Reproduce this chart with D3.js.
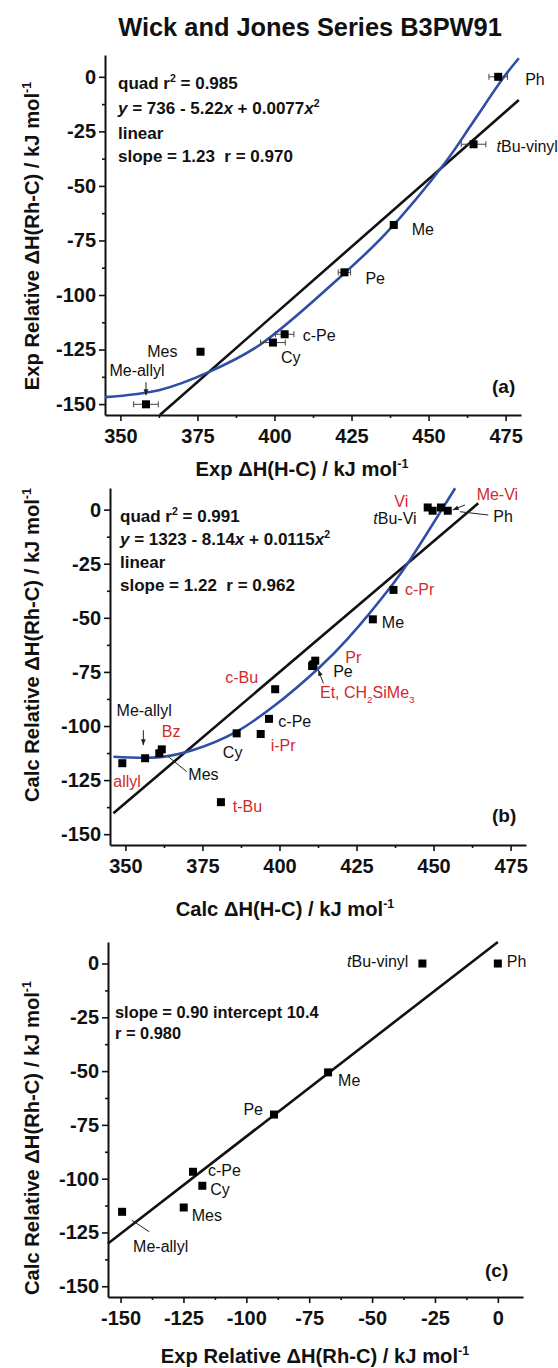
<!DOCTYPE html>
<html>
<head>
<meta charset="utf-8">
<script src="https://cdn.jsdelivr.net/npm/d3@7"></script>
<style>
body { margin: 0; background: #fff; }
svg text { font-family: "Liberation Sans", Arial, Helvetica, sans-serif; white-space: pre; }
</style>
</head>
<body>
<svg id="chart" width="558" height="1368"></svg>
<script>
// ---- data ----
// (a) experimental Rh-C vs experimental H-C
const aNames  = ["Ph", "tBu-vinyl", "Me", "Pe", "c-Pe", "Cy", "Mes", "Me-allyl"];
const aExpHC  = [472.6, 464.6, 438.7, 422.7, 403.3, 399.5, 376.0, 358.3];
const aExpRhC = [0, -30.9, -67.9, -89.6, -118.0, -121.8, -126.0, -150.1];
const aErr    = [3, 4, 1, 2, 3, 4, 1, 4];
const aQuadX  = [345, 362.8, 379, 395.2, 422.7, 436, 455.6, 464.2, 474.5, 479.3];
const aQuadY  = [-146.8, -143.5, -135.1, -122.9, -90, -72, -38.9, -21.3, 0, 8.5];
const aLinX   = [362.8, 479.3];
const aLinY   = [-155, -10.6];

// (b) calculated Rh-C vs calculated H-C
const bNames   = ["Vi", "tBu-Vi", "Me-Vi", "Ph", "c-Pr", "Me", "Pr", "Pe", "Et", "CH2SiMe3",
                  "c-Bu", "c-Pe", "i-Pr", "Cy", "t-Bu", "Bz", "Mes", "Me-allyl", "allyl"];
const bCalcHC  = [448.1, 449.7, 452.4, 454.6, 437.0, 430.3, 411.6, 410.6, 411.0, 410.8,
                  398.6, 396.6, 393.9, 386.1, 381.0, 361.8, 361.0, 356.4, 349.0];
const bCalcRhC = [1.0, -0.5, 1.0, -0.5, -37.1, -50.7, -69.8, -72.3, -71.5, -72.0,
                  -83.0, -96.7, -103.7, -103.4, -135.2, -110.8, -112.6, -114.9, -117.2];
const bQuadX   = [346.1, 361.2, 372, 386.1, 398, 413.2, 421.8, 437, 441.3, 457];
const bQuadY   = [-114.2, -114.4, -111.1, -102.6, -91, -72.6, -60.2, -34, -25.5, 9.9];
const bLinX    = [346.1, 464.5];
const bLinY    = [-140.3, 2.9];

// (c) calculated vs experimental relative Rh-C
const cNames = ["tBu-vinyl", "Ph", "Me", "Pe", "c-Pe", "Cy", "Mes", "Me-allyl"];
const cExp   = [-30, 0, -67.5, -89, -121.2, -117.5, -124.9, -149.4];
const cCalc  = [0, 0, -50.6, -70.2, -96.8, -103.3, -113.4, -115.4];
const cLinX  = [-155, 0];
const cLinY  = [-130.1, 10];

// ticks
const hcTicks     = [350, 375, 400, 425, 450, 475];
const hcMinor     = [362.5, 387.5, 412.5, 437.5, 462.5];
const relTicks    = [0, -25, -50, -75, -100, -125, -150];
const relMinor    = [-12.5, -37.5, -62.5, -87.5, -112.5, -137.5];
const relXTicks   = [-150, -125, -100, -75, -50, -25, 0];
const relXMinor   = [-137.5, -112.5, -87.5, -62.5, -37.5, -12.5];

const BLUE = "#2f4fa6";
const RED = "#d12a2a";

const svg = d3.select("#chart");

const defs = svg.append("defs");
defs.append("marker")
    .attr("id", "arr")
    .attr("viewBox", "0 0 10 10")
    .attr("refX", 10).attr("refY", 5)
    .attr("markerWidth", 6).attr("markerHeight", 6)
    .attr("orient", "auto")
    .append("path").attr("d", "M0,1L10,5L0,9z").attr("fill", "#222");

// text with super/subscripts and italics
function rich(text, parts, fs) {
    let cur = 0;
    parts.forEach(p => {
        const off = p.sup ? -0.42 * fs : p.sub ? 0.3 * fs : 0;
        const ts = text.append("tspan").attr("dy", off - cur).text(p.t);
        if (p.sup || p.sub) ts.attr("font-size", fs * 0.62);
        if (p.it) ts.attr("font-style", "italic");
        cur = off;
    });
    return text;
}

function label(g, x, y, parts, o) {
    const fs = o.fs || 16;
    const t = g.append("text")
        .attr("x", x).attr("y", y)
        .attr("font-size", fs)
        .attr("font-weight", o.bold ? "bold" : "normal")
        .attr("fill", o.color || "#111")
        .attr("text-anchor", o.anchor || "start");
    if (o.rotate) t.attr("transform", `rotate(-90,${x},${y})`);
    return rich(t, typeof parts === "string" ? [{t: parts}] : parts, fs);
}

function drawPanel(p) {
    const g = svg.append("g");
    const x = d3.scaleLinear().domain(p.xDom).range([p.x0, p.x1]);
    const y = d3.scaleLinear().domain([-155, 10]).range([p.y1, p.y0]);

    // axes
    const xa = g.append("g").attr("transform", `translate(0,${p.y1})`)
        .call(d3.axisBottom(x).tickValues(p.xTicks).tickSize(6).tickPadding(8)
            .tickSizeOuter(0).tickFormat(d => String(d)));
    const xm = g.append("g").attr("transform", `translate(0,${p.y1})`)
        .call(d3.axisBottom(x).tickValues(p.xMinor).tickSize(3).tickFormat(""));
    const ya = g.append("g").attr("transform", `translate(${p.x0},0)`)
        .call(d3.axisLeft(y).tickValues(relTicks).tickSize(6).tickPadding(3)
            .tickSizeOuter(0).tickFormat(d => String(d)));
    const ym = g.append("g").attr("transform", `translate(${p.x0},0)`)
        .call(d3.axisLeft(y).tickValues(relMinor).tickSize(3).tickFormat(""));
    xm.select(".domain").remove();
    ym.select(".domain").remove();
    [xa, ya].forEach(a => {
        a.select(".domain").attr("stroke", "#111").attr("stroke-width", 2);
        a.selectAll("text").attr("font-size", 20).attr("font-weight", "bold")
            .attr("fill", "#111").attr("font-family", "Liberation Sans, Arial, sans-serif");
    });
    [xa, ya, xm, ym].forEach(a => a.selectAll(".tick line").attr("stroke", "#111").attr("stroke-width", 1.6));

    // fit lines
    const line = d3.line().x(d => x(d[0])).y(d => y(d[1]));
    g.append("path").datum(d3.zip(p.linX, p.linY))
        .attr("d", line).attr("fill", "none").attr("stroke", "#111").attr("stroke-width", 2.6);
    if (p.quadX) {
        g.append("path").datum(d3.zip(p.quadX, p.quadY))
            .attr("d", line.curve(d3.curveCatmullRom.alpha(0.5)))
            .attr("fill", "none").attr("stroke", BLUE).attr("stroke-width", 2.6);
    }

    // error bars
    if (p.err) {
        const eb = g.append("g").attr("stroke", "#444").attr("stroke-width", 1);
        p.px.forEach((v, i) => {
            const yy = y(p.py[i]), xl = x(v - p.err[i]), xr = x(v + p.err[i]);
            eb.append("line").attr("x1", xl).attr("x2", xr).attr("y1", yy).attr("y2", yy);
            eb.append("line").attr("x1", xl).attr("x2", xl).attr("y1", yy - 3).attr("y2", yy + 3);
            eb.append("line").attr("x1", xr).attr("x2", xr).attr("y1", yy - 3).attr("y2", yy + 3);
        });
    }

    // points
    g.selectAll("rect.pt").data(d3.zip(p.px, p.py)).enter().append("rect")
        .attr("class", "pt")
        .attr("x", d => x(d[0]) - 4).attr("y", d => y(d[1]) - 4)
        .attr("width", 8).attr("height", 8).attr("fill", "#000");

    // point labels & leaders
    p.labels.forEach(l => {
        const cx = x(p.px[l.i]), cy = y(p.py[l.i]);
        label(g, cx + l.dx, cy + l.dy, l.parts || p.names[l.i],
            {anchor: l.anchor, color: l.red ? RED : "#111"});
        if (l.lead) {
            const ln = g.append("line")
                .attr("x1", cx + l.lead[0]).attr("y1", cy + l.lead[1])
                .attr("x2", cx + l.lead[2]).attr("y2", cy + l.lead[3])
                .attr("stroke", "#222").attr("stroke-width", 1);
            if (l.arrow) ln.attr("marker-end", "url(#arr)");
        }
    });

    // annotations
    p.notes.forEach((n, k) => label(g, p.noteX, p.noteY[k], n, {bold: true, fs: p.noteFs}));
    label(g, p.tag[0], p.tag[1], p.tag[2], {bold: true, fs: 19});

    // axis titles
    label(g, p.xTitle[0], p.xTitle[1], p.xTitle[2], {bold: true, fs: 20.2, anchor: "middle"});
    label(g, 39, p.yTitle[0], p.yTitle[1], {bold: true, fs: 20.2, anchor: "middle", rotate: true});
}

label(svg, 310, 36, "Wick and Jones Series B3PW91", {bold: true, fs: 25.4, anchor: "middle"});

drawPanel({
    x0: 105, x1: 521, y0: 55, y1: 415,
    xDom: [345, 480], xTicks: hcTicks, xMinor: hcMinor,
    px: aExpHC, py: aExpRhC, err: aErr, names: aNames,
    quadX: aQuadX, quadY: aQuadY, linX: aLinX, linY: aLinY,
    labels: [
        {i: 0, dx: 27, dy: 8},
        {i: 1, dx: 23, dy: 7.5, parts: [{t: "t", it: true}, {t: "Bu-vinyl"}]},
        {i: 2, dx: 18, dy: 10},
        {i: 3, dx: 21, dy: 12},
        {i: 4, dx: 18, dy: 7},
        {i: 5, dx: 8, dy: 20},
        {i: 6, dx: -23, dy: 5, anchor: "end"},
        {i: 7, dx: -9, dy: -28, anchor: "middle", lead: [0, -22, 0, -9], arrow: true}
    ],
    noteX: 118, noteY: [89, 114, 139, 162], noteFs: 17,
    notes: [
        [{t: "quad r"}, {t: "2", sup: true}, {t: " = 0.985"}],
        [{t: "y", it: true}, {t: " = 736 - 5.22"}, {t: "x", it: true}, {t: " + 0.0077"}, {t: "x", it: true}, {t: "2", sup: true}],
        "linear",
        "slope = 1.23  r = 0.970"
    ],
    tag: [492, 393, "(a)"],
    xTitle: [302, 476, [{t: "Exp \u0394H(H-C) / kJ mol"}, {t: "-1", sup: true}]],
    yTitle: [236, [{t: "Exp Relative \u0394H(Rh-C) / kJ mol"}, {t: "-1", sup: true}]]
});

drawPanel({
    x0: 110, x1: 526, y0: 488, y1: 845,
    xDom: [345, 480], xTicks: hcTicks, xMinor: hcMinor,
    px: bCalcHC, py: bCalcRhC, names: bNames,
    quadX: bQuadX, quadY: bQuadY, linX: bLinX, linY: bLinY,
    labels: [
        {i: 0, dx: -19.5, dy: 0, anchor: "end", red: true},
        {i: 1, dx: -16, dy: 13, anchor: "end", parts: [{t: "t", it: true}, {t: "Bu-Vi"}]},
        {i: 2, dx: 35.7, dy: -7.5, red: true, lead: [24, -2.5, 11.7, 2.5], arrow: true},
        {i: 3, dx: 45.6, dy: 11, lead: [40.6, 4.3, 12.3, 1]},
        {i: 4, dx: 11.5, dy: 5, red: true},
        {i: 5, dx: 9, dy: 9},
        {i: 6, dx: 30, dy: 2, red: true},
        {i: 7, dx: 21, dy: 10.6},
        {i: 8, dx: 6.6, dy: 33.6, red: true, lead: [10, 19, 5, 5.6], arrow: true,
            parts: [{t: "Et, CH"}, {t: "2", sub: true}, {t: "SiMe"}, {t: "3", sub: true}]},
        {i: 10, dx: -17, dy: -6, anchor: "end", red: true},
        {i: 11, dx: 9.3, dy: 8.5},
        {i: 12, dx: 10, dy: 17, red: true},
        {i: 13, dx: -4, dy: 25, anchor: "middle"},
        {i: 14, dx: 11.8, dy: 9.5, red: true},
        {i: 15, dx: 0, dy: -12.7, red: true},
        {i: 16, dx: 29, dy: 26.7, lead: [27.4, 18.4, 9, 3.4]},
        {i: 17, dx: -1, dy: -42, anchor: "middle", lead: [-1.8, -28, -1.8, -13], arrow: true},
        {i: 18, dx: -9, dy: 23.5, red: true}
    ],
    noteX: 120, noteY: [522, 545, 568, 591], noteFs: 17,
    notes: [
        [{t: "quad r"}, {t: "2", sup: true}, {t: " = 0.991"}],
        [{t: "y", it: true}, {t: " = 1323 - 8.14"}, {t: "x", it: true}, {t: " + 0.0115"}, {t: "x", it: true}, {t: "2", sup: true}],
        "linear",
        "slope = 1.22  r = 0.962"
    ],
    tag: [492, 822, "(b)"],
    xTitle: [285, 916, [{t: "Calc \u0394H(H-C) / kJ mol"}, {t: "-1", sup: true}]],
    yTitle: [645, [{t: "Calc Relative \u0394H(Rh-C) / kJ mol"}, {t: "-1", sup: true}]]
});

drawPanel({
    x0: 108, x1: 523, y0: 942, y1: 1297,
    xDom: [-155, 10], xTicks: relXTicks, xMinor: relXMinor,
    px: cExp, py: cCalc, names: cNames,
    linX: cLinX, linY: cLinY,
    labels: [
        {i: 0, dx: -14, dy: 3, anchor: "end", parts: [{t: "t", it: true}, {t: "Bu-vinyl"}]},
        {i: 1, dx: 9, dy: 3},
        {i: 2, dx: 10, dy: 14},
        {i: 3, dx: -11, dy: 0, anchor: "end"},
        {i: 4, dx: 15, dy: 4},
        {i: 5, dx: 8, dy: 9.5},
        {i: 6, dx: 8, dy: 14},
        {i: 7, dx: 11, dy: 40, lead: [9.6, 8.3, 27.2, 20]}
    ],
    noteX: 115, noteY: [1018, 1039], noteFs: 16.4,
    notes: ["slope = 0.90 intercept 10.4", "r = 0.980"],
    tag: [485, 1277, "(c)"],
    xTitle: [315, 1363, [{t: "Exp Relative \u0394H(Rh-C) / kJ mol"}, {t: "-1", sup: true}]],
    yTitle: [1138, [{t: "Calc Relative \u0394H(Rh-C) / kJ mol"}, {t: "-1", sup: true}]]
});
</script>
</body>
</html>
